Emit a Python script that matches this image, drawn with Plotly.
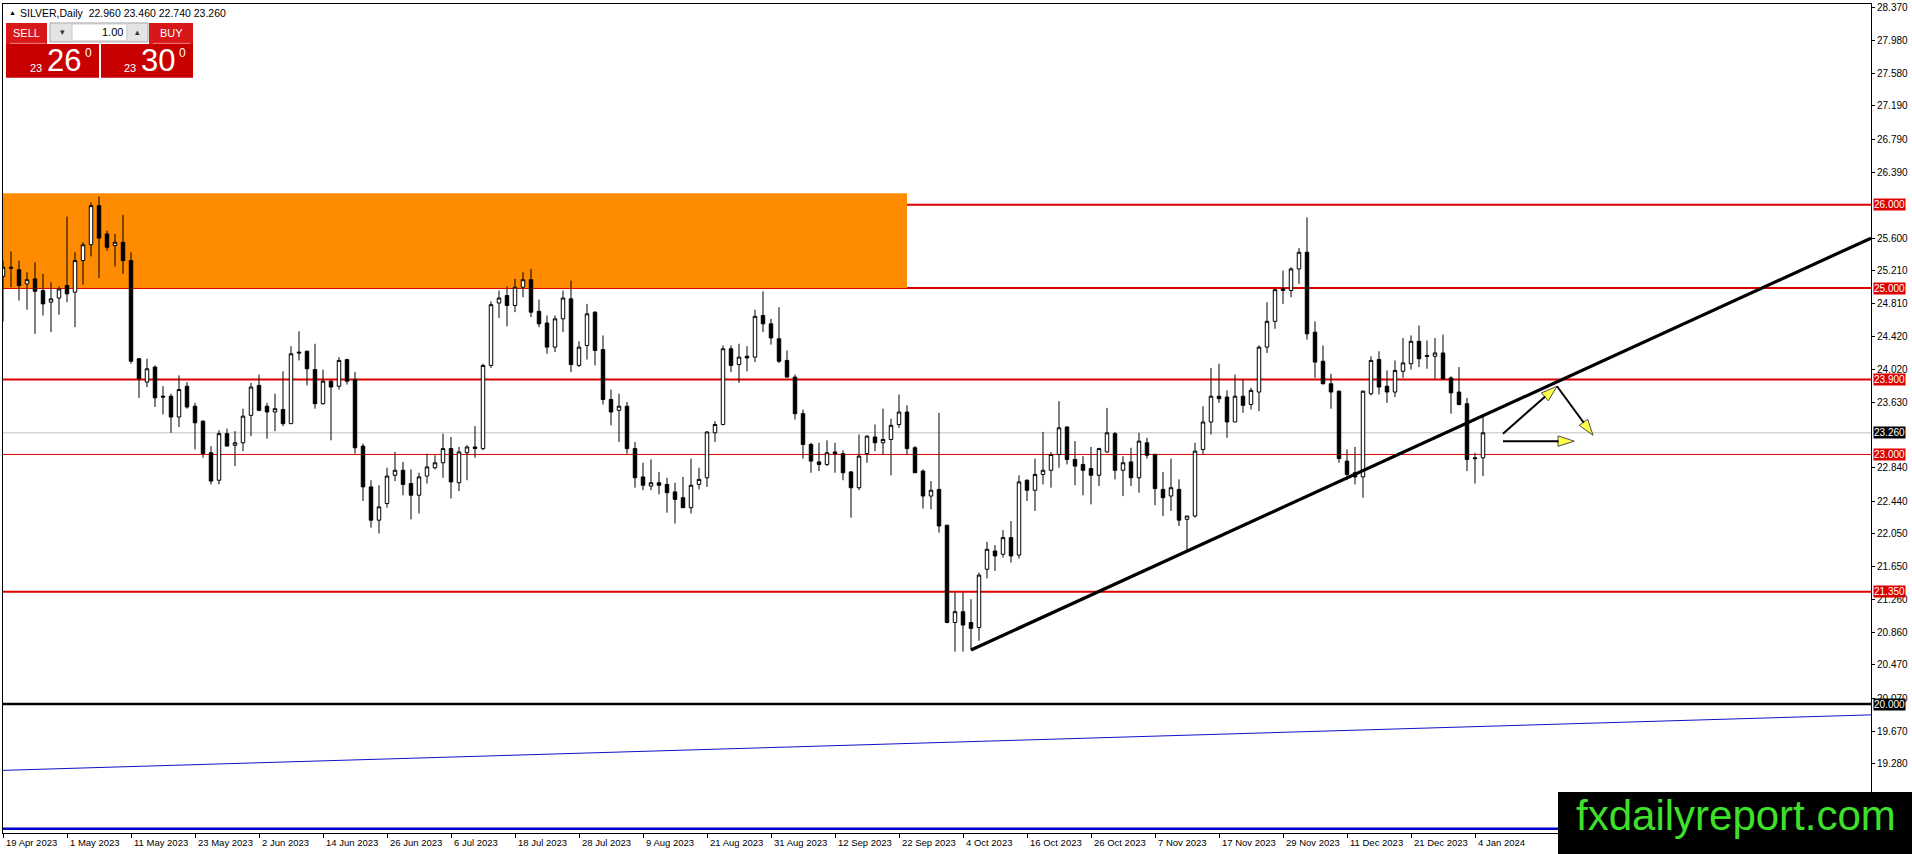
import plotly.graph_objects as go

# ---------------- data ----------------
OPEN = [25.14, 25.25, 25.22, 25.05, 25.11, 24.97, 24.83, 24.88, 25.03, 24.95,
        25.33, 25.52, 25.99, 25.65, 25.51, 25.55, 25.33, 24.15, 23.87, 24.05,
        23.70, 23.70, 23.45, 23.82, 23.58, 23.40, 23.02, 22.69, 23.25, 23.11,
        23.14, 23.47, 23.83, 23.58, 23.51, 23.54, 23.37, 24.23, 24.24, 24.02,
        23.61, 23.88, 23.82, 24.14, 23.90, 23.10, 22.61, 22.21, 22.41, 22.75,
        22.81, 22.65, 22.51, 22.74, 22.84, 22.90, 23.07, 22.66, 23.02, 23.09,
        23.07, 24.07, 24.82, 24.91, 24.79, 25.01, 25.10, 24.72, 24.58, 24.29,
        24.63, 24.87, 24.07, 24.31, 24.71, 24.26, 23.66, 23.53, 23.58, 23.07,
        22.73, 22.62, 22.66, 22.64, 22.55, 22.48, 22.36, 22.64, 22.72, 23.26,
        23.36, 24.27, 24.08, 24.18, 24.17, 24.67, 24.57, 24.39, 24.13, 23.93,
        23.49, 23.12, 22.91, 22.88, 23.03, 23.01, 22.79, 22.60, 23.01, 23.21,
        23.14, 23.18, 23.36, 23.51, 23.08, 22.80, 22.50, 22.58, 22.15, 20.98,
        21.11, 20.98, 20.92, 21.62, 21.84, 21.80, 22.00, 21.79, 22.69, 22.57,
        22.76, 22.81, 23.00, 23.33, 22.94, 22.88, 22.83, 22.75, 23.03, 23.25,
        22.81, 22.91, 22.72, 23.14, 23.00, 22.58, 22.50, 22.58, 22.22, 22.26,
        23.06, 23.39, 23.70, 23.69, 23.39, 23.70, 23.60, 23.75, 24.29, 24.60,
        24.97, 24.97, 25.23, 25.43, 24.47, 24.12, 23.85, 23.76, 22.92, 22.78,
        22.73, 23.73, 24.14, 23.82, 23.75, 24.00, 24.09, 24.36, 24.19, 24.18,
        24.22, 23.92, 23.75, 23.61, 22.96, 22.96]
HIGH = [25.33, 25.44, 25.33, 25.19, 25.31, 25.17, 25.07, 25.02, 25.86, 25.43,
        25.55, 26.03, 26.10, 25.69, 25.65, 25.88, 25.43, 24.16, 24.15, 24.07,
        23.82, 23.73, 23.95, 23.87, 23.62, 23.41, 23.10, 23.29, 23.31, 23.28,
        23.55, 23.86, 23.96, 23.62, 23.73, 24.00, 24.30, 24.48, 24.25, 24.33,
        24.02, 23.89, 24.17, 24.15, 23.99, 23.13, 22.69, 22.63, 22.84, 23.03,
        22.91, 22.82, 22.78, 23.01, 22.99, 23.25, 23.21, 23.09, 23.11, 23.34,
        24.09, 24.84, 24.97, 25.02, 25.11, 25.19, 25.23, 24.86, 24.67, 24.67,
        24.97, 25.09, 24.36, 24.81, 24.72, 24.43, 23.78, 23.73, 23.63, 23.15,
        22.90, 22.94, 22.79, 22.72, 22.66, 22.73, 22.95, 22.84, 23.28, 23.40,
        24.31, 24.31, 24.33, 24.30, 24.74, 24.96, 24.63, 24.77, 24.25, 23.96,
        23.54, 23.14, 23.14, 23.17, 23.14, 23.05, 22.80, 23.24, 23.23, 23.36,
        23.55, 23.43, 23.72, 23.59, 23.10, 22.82, 22.68, 23.50, 22.15, 21.34,
        21.34, 21.26, 21.58, 21.95, 21.91, 22.09, 22.20, 22.75, 22.70, 22.95,
        23.27, 23.03, 23.64, 23.34, 23.16, 22.98, 23.09, 23.08, 23.56, 23.27,
        22.98, 23.08, 23.26, 23.20, 23.01, 22.79, 22.95, 22.70, 22.26, 23.14,
        23.58, 24.04, 24.09, 23.77, 23.96, 23.90, 23.80, 24.31, 24.83, 24.99,
        25.21, 25.25, 25.48, 25.85, 24.60, 24.31, 23.97, 23.77, 23.06, 23.09,
        23.77, 24.18, 24.24, 24.01, 24.13, 24.40, 24.43, 24.55, 24.37, 24.40,
        24.44, 23.94, 24.05, 23.68, 23.02, 23.46]
LOW = [24.60, 25.01, 24.85, 24.74, 24.45, 24.67, 24.47, 24.68, 24.83, 24.53,
       25.04, 25.38, 25.12, 25.45, 25.26, 25.17, 24.09, 23.68, 23.81, 23.57,
       23.48, 23.26, 23.33, 23.55, 23.06, 22.96, 22.64, 22.64, 23.10, 22.86,
       23.04, 23.22, 23.52, 23.19, 23.28, 23.34, 23.37, 24.13, 23.83, 23.55,
       23.60, 23.17, 23.78, 23.84, 23.01, 22.44, 22.12, 22.05, 22.36, 22.68,
       22.51, 22.22, 22.29, 22.65, 22.82, 22.72, 22.47, 22.56, 22.69, 22.96,
       23.05, 24.04, 24.64, 24.54, 24.71, 24.89, 24.65, 24.53, 24.21, 24.23,
       24.47, 23.99, 24.05, 24.14, 24.07, 23.60, 23.35, 23.15, 23.01, 22.60,
       22.57, 22.57, 22.52, 22.30, 22.17, 22.36, 22.29, 22.58, 22.61, 23.15,
       23.35, 23.99, 23.86, 24.00, 24.11, 24.47, 24.32, 24.10, 23.92, 23.42,
       22.95, 22.78, 22.80, 22.86, 22.78, 22.69, 22.24, 22.57, 22.90, 23.04,
       23.00, 22.75, 23.32, 23.00, 22.78, 22.35, 22.34, 22.06, 20.97, 20.63,
       20.63, 20.65, 20.76, 21.51, 21.60, 21.76, 21.70, 21.75, 22.44, 22.32,
       22.64, 22.60, 22.84, 22.88, 22.63, 22.51, 22.40, 22.62, 23.02, 22.70,
       22.50, 22.62, 22.54, 22.95, 22.39, 22.26, 22.32, 22.14, 21.85, 22.24,
       23.00, 23.24, 23.62, 23.20, 23.39, 23.50, 23.54, 23.52, 24.22, 24.51,
       24.81, 24.89, 25.05, 24.38, 23.92, 23.84, 23.55, 22.90, 22.69, 22.64,
       22.48, 23.71, 23.72, 23.62, 23.69, 23.92, 24.02, 24.05, 24.03, 23.91,
       23.90, 23.49, 23.59, 22.80, 22.65, 22.74]
CLOSE = [25.25, 25.24, 25.03, 25.10, 24.96, 24.81, 24.87, 24.99, 24.93, 25.33,
         25.52, 25.99, 25.60, 25.49, 25.55, 25.33, 24.12, 23.91, 24.03, 23.68,
         23.69, 23.45, 23.78, 23.57, 23.38, 23.01, 22.68, 23.25, 23.10, 23.14,
         23.46, 23.81, 23.53, 23.51, 23.55, 23.37, 24.21, 24.22, 24.03, 23.61,
         23.88, 23.81, 24.13, 23.88, 23.08, 22.61, 22.21, 22.37, 22.74, 22.81,
         22.64, 22.51, 22.73, 22.85, 22.90, 23.07, 22.67, 23.03, 23.09, 23.07,
         24.07, 24.80, 24.88, 24.79, 25.01, 25.10, 24.71, 24.57, 24.29, 24.63,
         24.88, 24.08, 24.29, 24.69, 24.25, 23.66, 23.51, 23.58, 23.07, 22.72,
         22.63, 22.66, 22.63, 22.54, 22.46, 22.36, 22.63, 22.70, 23.27, 23.36,
         24.27, 24.07, 24.17, 24.16, 24.66, 24.57, 24.40, 24.12, 23.93, 23.49,
         23.12, 22.92, 22.88, 23.02, 23.01, 22.78, 22.60, 22.98, 23.22, 23.14,
         23.18, 23.35, 23.51, 23.07, 22.78, 22.50, 22.57, 22.14, 20.98, 21.11,
         20.95, 20.91, 21.55, 21.86, 21.78, 22.00, 21.78, 22.67, 22.57, 22.76,
         22.81, 23.00, 23.32, 22.94, 22.86, 22.81, 22.75, 23.07, 23.26, 22.81,
         22.90, 22.72, 23.16, 22.99, 22.59, 22.48, 22.60, 22.21, 22.26, 23.04,
         23.39, 23.70, 23.67, 23.39, 23.70, 23.59, 23.77, 24.29, 24.60, 24.98,
         24.99, 25.23, 25.43, 24.45, 24.11, 23.85, 23.75, 22.95, 22.76, 22.73,
         23.76, 24.13, 23.81, 23.75, 24.01, 24.10, 24.36, 24.15, 24.18, 24.22,
         23.91, 23.74, 23.60, 22.94, 22.95, 23.26]

TICK_LABELS = ["19 Apr 2023", "1 May 2023", "11 May 2023", "23 May 2023", "2 Jun 2023",
               "14 Jun 2023", "26 Jun 2023", "6 Jul 2023", "18 Jul 2023", "28 Jul 2023",
               "9 Aug 2023", "21 Aug 2023", "31 Aug 2023", "12 Sep 2023", "22 Sep 2023",
               "4 Oct 2023", "16 Oct 2023", "26 Oct 2023", "7 Nov 2023", "17 Nov 2023",
               "29 Nov 2023", "11 Dec 2023", "21 Dec 2023", "4 Jan 2024"]
BARS_PER_TICK = 8
PRICE_TICKS = [28.37, 27.98, 27.58, 27.19, 26.79, 26.39, 25.60, 25.21, 24.81,
               24.42, 24.02, 23.63, 22.84, 22.44, 22.05, 21.65, 21.26, 20.86,
               20.47, 20.07, 19.67, 19.28]

RED_LEVELS = [26.0, 25.0, 23.9, 21.35]
THIN_RED_LEVEL = 23.0
BID_LEVEL = 23.26
BLACK_LEVEL = 20.0
BLUE_LEVEL = 18.5
ZONE_PRICES = [25.0, 26.14]
ZONE_BARS = [-1, 113]
TREND_X = [121, 233.5]
TREND_Y = [20.65, 25.60]
BLUE_TREND_X = [-1, 233.5]
BLUE_TREND_Y = [19.20, 19.87]
ARROW_UP_X = [187.5, 194.25]
ARROW_UP_Y = [23.25, 23.82]
ARROW_DOWN_X = [194.25, 198.75]
ARROW_DOWN_Y = [23.82, 23.23]
ARROW_FLAT_X = [187.5, 196.4]
ARROW_FLAT_Y = [23.16, 23.16]

SYMBOL = "SILVER,Daily"
BID_PARTS = ["23", "26", "0"]
ASK_PARTS = ["23", "30", "0"]
LOT = "1.00"
WATERMARK = "fxdailyreport.com"

# ---------------- layout geometry ----------------
W, H = 1912, 854
PL, PR, PT, PB = 3, 1871, 2, 833
X_RANGE = [0.0, 233.5]
Y_RANGE = [18.45, 28.414]
FONT = "Liberation Sans"
RED = "#dd0000"


def pxx(x):
    return (x - PL) / (PR - PL)


def pxy(y):
    return (PB - y) / (PB - PT)


bars = list(range(len(OPEN)))

fig = go.Figure()
fig.add_trace(go.Candlestick(
    x=bars, open=OPEN, high=HIGH, low=LOW, close=CLOSE,
    increasing=dict(line=dict(color="black", width=1), fillcolor="white"),
    decreasing=dict(line=dict(color="black", width=1), fillcolor="black"),
    whiskerwidth=0, hoverinfo="skip", showlegend=False))

fig.add_trace(go.Scatter(x=BLUE_TREND_X, y=BLUE_TREND_Y, mode="lines",
                         line=dict(color="#1010c8", width=1), hoverinfo="skip", showlegend=False))
fig.add_trace(go.Scatter(x=TREND_X, y=TREND_Y, mode="lines",
                         line=dict(color="black", width=3.2), hoverinfo="skip", showlegend=False))
for ax, ay in [(ARROW_UP_X, ARROW_UP_Y), (ARROW_DOWN_X, ARROW_DOWN_Y), (ARROW_FLAT_X, ARROW_FLAT_Y)]:
    fig.add_trace(go.Scatter(
        x=ax, y=ay, mode="lines+markers",
        line=dict(color="black", width=2),
        marker=dict(symbol="arrow", size=[0, 17], angleref="previous",
                    color="#ffff00", line=dict(color="black", width=1)),
        hoverinfo="skip", showlegend=False))

shapes = []
shapes.append(dict(type="rect", xref="x", yref="y", x0=ZONE_BARS[0], x1=ZONE_BARS[1],
                   y0=ZONE_PRICES[0], y1=ZONE_PRICES[1], fillcolor="#ff8c00",
                   line=dict(width=0), layer="below"))
for lv in RED_LEVELS:
    shapes.append(dict(type="line", xref="paper", yref="y", x0=0, x1=1, y0=lv, y1=lv,
                       line=dict(color=RED, width=2), layer="below"))
shapes.append(dict(type="line", xref="paper", yref="y", x0=0, x1=1, y0=THIN_RED_LEVEL,
                   y1=THIN_RED_LEVEL, line=dict(color=RED, width=1), layer="below"))
shapes.append(dict(type="line", xref="paper", yref="y", x0=0, x1=1, y0=BID_LEVEL,
                   y1=BID_LEVEL, line=dict(color="#c0c0c0", width=1), layer="below"))
shapes.append(dict(type="line", xref="paper", yref="y", x0=0, x1=1, y0=BLACK_LEVEL,
                   y1=BLACK_LEVEL, line=dict(color="black", width=2.5), layer="above"))
shapes.append(dict(type="line", xref="paper", yref="y", x0=0, x1=1, y0=BLUE_LEVEL,
                   y1=BLUE_LEVEL, line=dict(color="#0000cc", width=2.5), layer="above"))


def prect(x0, x1, y0, y1, fill, line=None, lw=0):
    return dict(type="rect", xref="paper", yref="paper", x0=pxx(x0), x1=pxx(x1),
                y0=pxy(y1), y1=pxy(y0), fillcolor=fill,
                line=dict(color=line or fill, width=lw), layer="above")


# one-click trading panel
shapes += [
    prect(6, 47, 21, 42, "#d81818"),
    prect(149, 193, 21, 42, "#d81818"),
    prect(50, 148, 21, 40, "#e4e4e4", "#a8a8a8", 1),
    prect(72, 127, 22, 39, "#ffffff", "#c8c8c8", 1),
    prect(6, 99, 42, 76, "#c80000"),
    prect(101, 193, 42, 76, "#c80000"),
    dict(type="line", xref="paper", yref="paper", x0=pxx(10), x1=pxx(46), y0=pxy(41.5), y1=pxy(41.5),
         line=dict(color="#ee8080", width=1), layer="above"),
    dict(type="line", xref="paper", yref="paper", x0=pxx(153), x1=pxx(190), y0=pxy(41.5), y1=pxy(41.5),
         line=dict(color="#ee8080", width=1), layer="above"),
    prect(1558, 1913, 792, 856, "#000000"),
]

ann = []


def ptext(x, y, text, size, color="black", xanchor="center", yanchor="middle", family=FONT):
    ann.append(dict(xref="paper", yref="paper", x=pxx(x), y=pxy(y), text=text, showarrow=False,
                    xanchor=xanchor, yanchor=yanchor,
                    font=dict(family=family, size=size, color=color)))


ptext(7, 11, "▲", 7, xanchor="left")
ptext(18, 11, "%s  %.3f %.3f %.3f %.3f" % (SYMBOL, OPEN[-1], HIGH[-1], LOW[-1], CLOSE[-1]),
      10.5, xanchor="left")
ptext(26.5, 31, "SELL", 11, "white")
ptext(171, 31, "BUY", 11, "white")
ptext(125, 30.5, LOT, 11, xanchor="right")
ptext(62, 30.5, "▾", 9, "#333333")
ptext(137.5, 30.5, "▴", 9, "#333333")
for parts, x0 in [(BID_PARTS, 0), (ASK_PARTS, 94)]:
    ptext(36 + x0, 66, parts[0], 11, "white")
    ptext(63.5 + x0, 59, parts[1], 31, "white")
    ptext(88 + x0, 51, parts[2], 12, "white")
ptext(1736, 815, WATERMARK, 42, "#3ee02a")

# date labels beside the x ticks
for k, lab in enumerate(TICK_LABELS):
    ann.append(dict(xref="x", yref="paper", x=k * BARS_PER_TICK, y=pxy(843), text=lab,
                    showarrow=False, xanchor="left", yanchor="middle", xshift=1,
                    font=dict(family=FONT, size=9.5, color="black")))

# price tags on the right scale
for lv, bg in [(26.0, RED), (25.0, RED), (23.9, RED), (23.0, RED), (21.35, RED),
               (BID_LEVEL, "black"), (BLACK_LEVEL, "black")]:
    ann.append(dict(xref="paper", yref="y", x=pxx(1873), y=lv, text="%.3f" % lv,
                    showarrow=False, xanchor="left", yanchor="middle", bgcolor=bg,
                    borderpad=0, font=dict(family=FONT, size=10, color="white")))

fig.update_layout(
    width=W, height=H, margin=dict(l=PL, r=W - PR, t=PT, b=H - PB),
    paper_bgcolor="white", plot_bgcolor="white", showlegend=False, hovermode=False,
    boxgap=0.38,
    shapes=shapes, annotations=ann,
    xaxis=dict(range=X_RANGE, rangeslider=dict(visible=False), showgrid=False, zeroline=False,
               showline=True, linecolor="black", linewidth=1, mirror=True,
               tickmode="array", tickvals=[k * BARS_PER_TICK for k in range(len(TICK_LABELS))],
               ticks="outside", ticklen=4, tickcolor="black", showticklabels=False),
    yaxis=dict(range=Y_RANGE, side="right", showgrid=False, zeroline=False,
               showline=True, linecolor="black", linewidth=1, mirror=True,
               tickmode="array", tickvals=PRICE_TICKS, ticktext=["%.3f" % v for v in PRICE_TICKS],
               ticks="outside", ticklen=3, tickcolor="black",
               tickfont=dict(family=FONT, size=10, color="black")),
)

fig.write_html("out.html", config={"displayModeBar": False},
               post_script="document.body.style.margin='0px';document.body.style.overflow='hidden';")
